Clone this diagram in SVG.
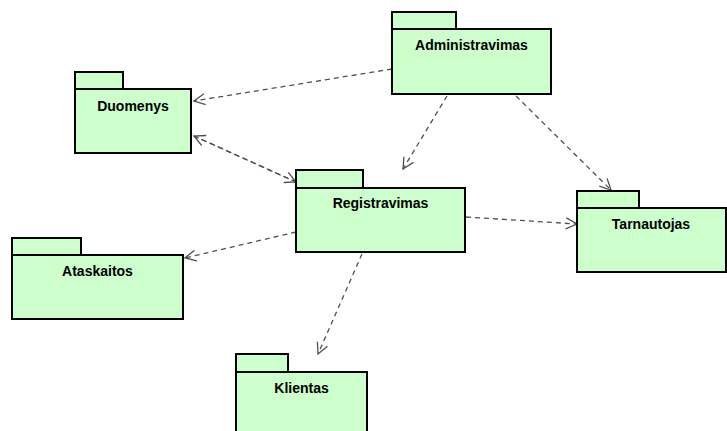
<svg xmlns="http://www.w3.org/2000/svg" width="727" height="431" viewBox="0 0 727 431">
<style>
.pk{fill:#ccffcc;stroke:#000;stroke-width:2}
.lb{font-family:"Liberation Sans",Arial,sans-serif;font-weight:bold;font-size:14px;fill:#000;text-anchor:middle}
.dep{fill:none;stroke:#505050;stroke-width:1.3;stroke-dasharray:5,4;marker-end:url(#open)}
</style>
<defs>
<marker id="open" markerUnits="userSpaceOnUse" markerWidth="16" markerHeight="16" viewBox="-12 -8 14 16" refX="0" refY="0" orient="auto">
<path d="M-11,-5.5 L0,0 L-11,5.5" fill="none" stroke="#505050" stroke-width="1.3"/>
</marker>
</defs>
<rect width="727" height="431" fill="#fff"/>
<g id="connectors">
<path class="dep" d="M392,69 L194,101"/>
<path class="dep" d="M296,182 L194,136"/>
<path class="dep" d="M194,136 L296,182"/>
<path class="dep" d="M447,96 L403,169"/>
<path class="dep" d="M516,96 L611,190"/>
<path class="dep" d="M296,232 L185,258"/>
<path class="dep" d="M466,217 L577,224"/>
<path class="dep" d="M362,254 L318,354"/>
</g>
<g id="Administravimas">
<rect class="pk" x="392" y="12" width="64" height="17"/>
<rect class="pk" x="392" y="29" width="159" height="65"/>
<text class="lb" x="471.5" y="50">Administravimas</text>
</g>
<g id="Duomenys">
<rect class="pk" x="75" y="72" width="48" height="17"/>
<rect class="pk" x="75" y="89" width="116" height="64"/>
<text class="lb" x="133" y="111">Duomenys</text>
</g>
<g id="Registravimas">
<rect class="pk" x="296" y="170" width="67" height="18"/>
<rect class="pk" x="296" y="188" width="169" height="64"/>
<text class="lb" x="380.5" y="208">Registravimas</text>
</g>
<g id="Ataskaitos">
<rect class="pk" x="12" y="238" width="69" height="17"/>
<rect class="pk" x="12" y="255" width="171" height="64"/>
<text class="lb" x="97.5" y="276">Ataskaitos</text>
</g>
<g id="Tarnautojas">
<rect class="pk" x="577" y="191" width="62" height="17"/>
<rect class="pk" x="577" y="208" width="149" height="64"/>
<text class="lb" x="651" y="229">Tarnautojas</text>
</g>
<g id="Klientas">
<rect class="pk" x="236" y="354" width="52" height="18"/>
<rect class="pk" x="236" y="372" width="131" height="64"/>
<text class="lb" x="301.5" y="393">Klientas</text>
</g>
</svg>
